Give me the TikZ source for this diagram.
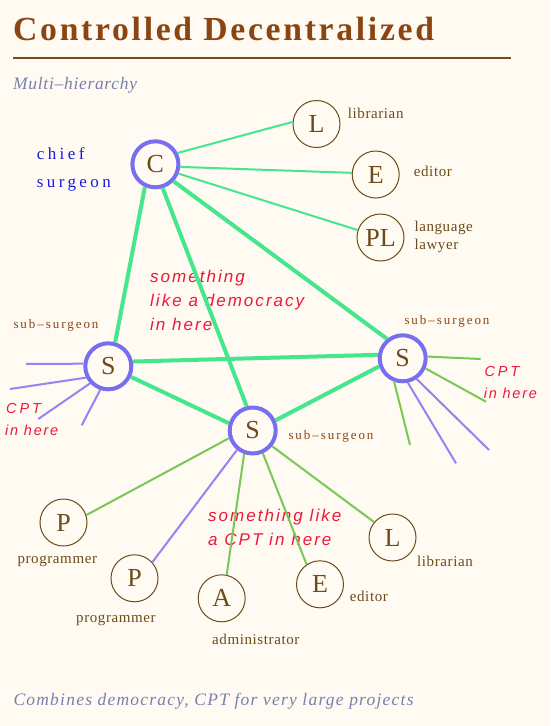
\documentclass[tikz,border=0pt]{standalone}
\usepackage{fontspec}
\setmainfont{Liberation Serif}
\newfontfamily\titlefont[LetterSpace=8]{Liberation Serif}
\newfontfamily\bluefont[LetterSpace=20]{Liberation Serif}
\newfontfamily\lblfont[LetterSpace=4]{Liberation Serif}
\newfontfamily\subfont[LetterSpace=15]{Liberation Serif}
\newfontfamily\itserif[LetterSpace=4]{Liberation Serif}
\newfontfamily\footserif[LetterSpace=7]{Liberation Serif}
\newfontfamily\redfont[LetterSpace=12]{Liberation Sans}
\newfontfamily\cptfont[LetterSpace=20]{Liberation Sans}
\definecolor{bgcream}{RGB}{255,250,242}
\definecolor{titlebrown}{RGB}{139,69,19}
\definecolor{rulebrown}{RGB}{110,80,30}
\definecolor{nodebrown}{RGB}{107,76,26}
\definecolor{chiefblue}{RGB}{25,25,225}
\definecolor{ringblue}{RGB}{120,110,240}
\definecolor{spokepurple}{RGB}{150,130,245}
\definecolor{spokegreen}{RGB}{120,200,85}
\definecolor{seafoam}{RGB}{70,230,140}
\definecolor{grayblue}{RGB}{120,128,176}
\definecolor{redtext}{RGB}{235,25,60}
\begin{document}
\begin{tikzpicture}[x=1pt,y=-1pt,
  txt/.style={inner sep=0pt, anchor=base west},
  lbl/.style={txt, text=nodebrown, font=\lblfont\fontsize{15}{17}\selectfont},
  sublbl/.style={txt, text=titlebrown, font=\subfont\fontsize{13}{15}\selectfont},
  bluelbl/.style={txt, text=chiefblue, font=\bluefont\fontsize{17}{20}\selectfont},
  redlbl/.style={txt, text=redtext, font=\redfont\itshape\fontsize{17}{20}\selectfont},
  cptlbl/.style={txt, text=redtext, font=\cptfont\itshape\fontsize{14.5}{17}\selectfont},
  herelbl/.style={txt, text=redtext, font=\redfont\itshape\fontsize{14.5}{17}\selectfont},
  greylbl/.style={txt, text=grayblue, font=\itserif\itshape\fontsize{17.5}{20}\selectfont},
  footlbl/.style={txt, text=grayblue, font=\footserif\itshape\fontsize{17.5}{20}\selectfont},
  boss/.style={circle, draw=ringblue, line width=4pt, minimum size=46pt, inner sep=0pt,
    text=nodebrown, font=\fontsize{26}{26}\selectfont},
  member/.style={circle, draw=nodebrown, line width=1pt, minimum size=47pt, inner sep=0pt,
    text=nodebrown, font=\fontsize{26}{26}\selectfont},
  thick link/.style={draw=seafoam, line width=4pt},
  thin link/.style={draw=seafoam, line width=2pt},
  gspoke/.style={draw=spokegreen, line width=2pt},
  pspoke/.style={draw=spokepurple, line width=2pt}]
\fill[bgcream] (0,0) rectangle (550,726);
\useasboundingbox (0,0) rectangle (550,726);

% title and subtitle
\node[txt, text=titlebrown, font=\titlefont\bfseries\fontsize{33.7}{38}\selectfont] (title) at (13,40.7) {Controlled Decentralized};
\coordinate (ruleL) at (13,57.7);
\coordinate (ruleR) at (511,57.7);
\draw[rulebrown, line width=2pt] (ruleL) -- (ruleR);
\node[greylbl] (sub) at (13,89.3) {Multi\textendash hierarchy};
\node[footlbl] (foot) at (13.3,705.7) {Combines democracy, CPT for very large projects};

% nodes
\node[boss] (C) at (155.4,164.3) {C};
\node[member] (L) at (316.5,124) {L};
\node[member] (E) at (375.7,174.5) {E};
\node[member] (PL) at (380.5,237.5) {PL};
\node[boss] (Sl) at (108.3,366.3) {S};
\node[boss] (Sr) at (402.7,358.3) {S};
\node[boss] (Sm) at (252.7,430.5) {S};
\node[member] (P1) at (63.5,522.5) {P};
\node[member] (P2) at (134.5,578.3) {P};
\node[member] (A) at (221.7,598.3) {A};
\node[member] (E2) at (320,584.3) {E};
\node[member] (L2) at (392.5,537.5) {L};

% labels
\node[bluelbl] (chief) at (36.7,159) {chief};
\node[bluelbl] (surg) at (36.7,187.3) {surgeon};
\node[lbl] (libA) at (347.7,118.7) {librarian};
\node[lbl] (edA) at (413.7,176.7) {editor};
\node[lbl] (langA) at (414.3,231.7) {language};
\node[lbl] (lawA) at (414.3,249.3) {lawyer};
\node[sublbl] (ssl) at (13.3,328.3) {sub\textendash surgeon};
\node[sublbl] (ssr) at (404.3,324) {sub\textendash surgeon};
\node[sublbl] (ssm) at (288.3,439.3) {sub\textendash surgeon};
\node[lbl] (prog1) at (17.3,563) {programmer};
\node[lbl] (prog2) at (76,622.3) {programmer};
\node[lbl] (admin) at (212,644) {administrator};
\node[lbl] (edB) at (349.7,601) {editor};
\node[lbl] (libB) at (417,566) {librarian};

\node[redlbl] (dem1) at (150,282.7) {something};
\node[redlbl] (dem2) at (150,306.7) {like a democracy};
\node[redlbl] (dem3) at (150,330) {in here};
\node[redlbl] (cpt1) at (208,521.7) {something like};
\node[redlbl] (cpt2) at (208,545) {a CPT in here};
\node[cptlbl] (lc1) at (6,413.3) {CPT};
\node[herelbl] (lc2) at (5,435) {in here};
\node[cptlbl] (rc1) at (484.3,376) {CPT};
\node[herelbl] (rc2) at (483.7,398.3) {in here};

% chief links
\draw[thin link] (C.27) -- (L.175);
\draw[thin link] (C.354) -- (E.176);
\draw[thin link] (C.338) -- (PL.162);
\draw[thick link] (C.245) -- (Sl.74);
\draw[thick link] (C.287) -- (Sm.104);
\draw[thick link] (C.317) -- (Sr.129);
\draw[thick link] (Sl.11) -- (Sr.172);
\draw[thick link] (Sl.335) -- (Sm.163);
\draw[thick link] (Sm.24) -- (Sr.199);

% middle sub-surgeon team
\draw[gspoke] (Sm.198) -- (P1.18);
\draw[pspoke] (Sm.231) -- (P2.42);
\draw[gspoke] (Sm.250) -- (A.78);
\draw[gspoke] (Sm.294) -- (E2.124);
\draw[gspoke] (Sm.321) -- (L2.140);

% left spokes
\coordinate (sl1) at (26,364);
\coordinate (sl2) at (10,389);
\coordinate (sl3) at (38.3,419);
\coordinate (sl4) at (81.7,425.3);
\draw[pspoke] (Sl.174) -- (sl1);
\draw[pspoke] (Sl.207) -- (sl2);
\draw[pspoke] (Sl.223) -- (sl3);
\draw[pspoke] (Sl.251) -- (sl4);

% right spokes
\coordinate (sr1) at (480.7,359);
\coordinate (sr2) at (486,401.7);
\coordinate (sr3) at (410,445);
\coordinate (sr4) at (456,463.3);
\coordinate (sr5) at (489,450);
\draw[gspoke] (Sr.4) -- (sr1);
\draw[gspoke] (Sr.336) -- (sr2);
\draw[gspoke] (Sr.250) -- (sr3);
\draw[pspoke] (Sr.282) -- (sr4);
\draw[pspoke] (Sr.304) -- (sr5);
\end{tikzpicture}
\end{document}
